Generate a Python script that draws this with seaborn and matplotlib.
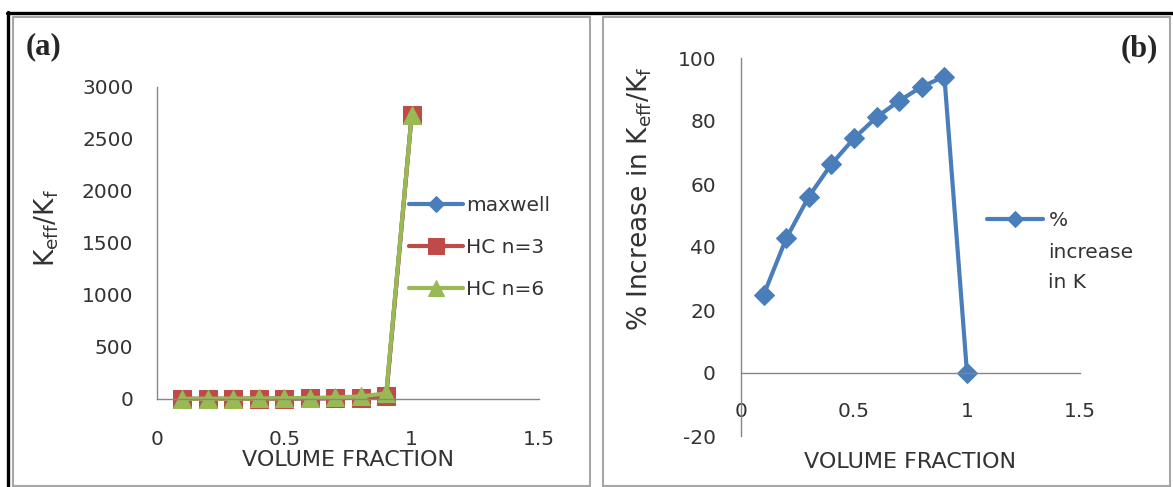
import matplotlib
matplotlib.use("Agg")
import matplotlib.pyplot as plt
import seaborn as sns
from matplotlib.lines import Line2D
from matplotlib.patches import Rectangle

# data
vol_frac = [0.1, 0.2, 0.3, 0.4, 0.5, 0.6, 0.7, 0.8, 0.9, 1.0]
maxwell = [1.33, 1.75, 2.28, 2.99, 3.99, 5.49, 7.98, 12.9, 27.7, 2730]
hc_n3 = [1.33, 1.75, 2.28, 2.99, 3.99, 5.49, 7.98, 12.9, 27.7, 2730]
hc_n6 = [1.66, 2.50, 3.56, 4.99, 6.98, 9.97, 15.0, 24.9, 53.8, 2730]
pct_increase = [24.8, 42.7, 56.0, 66.3, 74.5, 81.2, 86.4, 90.9, 94.1, 0.0]

x_ticks = [0, 0.5, 1, 1.5]
y_ticks_a = [0, 500, 1000, 1500, 2000, 2500, 3000]
y_ticks_b = [-20, 0, 20, 40, 60, 80, 100]

BLUE = "#4A7EBB"
RED = "#BE4B48"
GREEN = "#98B954"
AXIS_GREY = "#868686"
TEXT = "#333333"

sns.set_style("white")
plt.rcParams['font.family'] = ['DejaVu Sans']
plt.rcParams['mathtext.fontset'] = 'dejavusans'
plt.rcParams['axes.unicode_minus'] = False

W, H = 1173, 487
fig = plt.figure(figsize=(W / 100, H / 100), dpi=100)


def px_axes(left, top, right, bottom):
    return fig.add_axes([left / W, 1 - bottom / H, (right - left) / W, (bottom - top) / H])


def style_axis(ax):
    for s in ["top", "right"]:
        ax.spines[s].set_visible(False)
    for s in ["left", "bottom"]:
        ax.spines[s].set_color(AXIS_GREY)
        ax.spines[s].set_linewidth(1.0)
    ax.tick_params(axis="both", direction="out", length=5, width=1,
                   color=AXIS_GREY, labelsize=14.5, labelcolor=TEXT)
    ax.set_facecolor("none")


# frame around the figure
fig.add_artist(Rectangle((13 / W, 1 - 486 / H), (590 - 13) / W, (486 - 17) / H,
                         transform=fig.transFigure, fill=False, ec="#A6A6A6", lw=1.5))
fig.add_artist(Rectangle((603 / W, 1 - 486 / H), (1170 - 603) / W, (486 - 17) / H,
                         transform=fig.transFigure, fill=False, ec="#A6A6A6", lw=1.5))
fig.add_artist(Line2D([7 / W, 1], [1 - 13 / H, 1 - 13 / H], transform=fig.transFigure,
                      color="black", lw=2.4))
fig.add_artist(Line2D([8 / W, 8 / W], [0, 1 - 12 / H], transform=fig.transFigure,
                      color="black", lw=2.4))

# ---- panel (a)
ax1 = px_axes(157, 87, 539, 399)
style_axis(ax1)
series = [("maxwell", maxwell, BLUE, "D", 9),
          ("HC n=3", hc_n3, RED, "s", 13),
          ("HC n=6", hc_n6, GREEN, "^", 13)]
for name, vals, col, mk, ms in series:
    sns.lineplot(x=vol_frac, y=vals, ax=ax1, color=col, marker=mk, markersize=ms,
                 markeredgecolor=col, linewidth=3, label=name, estimator=None,
                 sort=False, clip_on=False)
ax1.set_xlim(0, 1.5)
ax1.set_ylim(0, 3000)
ax1.set_xticks(x_ticks)
ax1.set_xticklabels(["0", "0.5", "1", "1.5"])
ax1.set_yticks(y_ticks_a)
ax1.tick_params(axis="x", pad=17)
ax1.tick_params(axis="y", pad=12)
ax1.set_xlabel("VOLUME FRACTION", fontsize=16, color=TEXT, labelpad=0)
ax1.xaxis.set_label_coords(348 / W, 1 - 460 / H, transform=fig.transFigure)
ax1.xaxis.label.set_va("center")
ax1.set_ylabel(r"$\mathregular{K_{eff}/K_f}$", fontsize=19, color=TEXT)
ax1.yaxis.set_label_coords(47 / W, 1 - 228 / H, transform=fig.transFigure)
ax1.yaxis.label.set_va("center")
leg1 = ax1.legend(loc="upper left", bbox_to_anchor=(409 / W, 1 - 196 / H),
                  bbox_transform=fig.transFigure, frameon=False, borderpad=0,
                  borderaxespad=0, handlelength=2.7, handletextpad=0.15,
                  labelspacing=1.15, fontsize=14.5, labelcolor=TEXT)
for h, ms in zip(leg1.legend_handles, [8, 12, 12]):
    h.set_markersize(ms)
fig.text(26 / W, 1 - 47 / H, "(a)", family="Liberation Serif", weight="bold",
         fontsize=22, va="center", ha="left")

# ---- panel (b)
ax2 = px_axes(741, 58, 1080, 436)
style_axis(ax2)
sns.lineplot(x=vol_frac, y=pct_increase, ax=ax2, color=BLUE, marker="D",
             markersize=10, markeredgecolor=BLUE, linewidth=3,
             label="%", estimator=None, sort=False, clip_on=False)
ax2.set_xlim(0, 1.5)
ax2.set_ylim(-20, 100)
ax2.spines["bottom"].set_position(("data", 0))
ax2.set_xticks(x_ticks)
ax2.set_xticklabels(["0", "0.5", "1", "1.5"])
ax2.set_yticks(y_ticks_b)
ax2.tick_params(axis="x", pad=16)
ax2.tick_params(axis="y", pad=13)
ax2.set_xlabel("VOLUME FRACTION", fontsize=16, color=TEXT)
ax2.xaxis.set_label_coords(910 / W, 1 - 462 / H, transform=fig.transFigure)
ax2.xaxis.label.set_va("center")
ax2.set_ylabel(r"% Increase in $\mathregular{K_{eff}/K_f}$", fontsize=19, color=TEXT)
ax2.yaxis.set_label_coords(640 / W, 1 - 199 / H, transform=fig.transFigure)
ax2.yaxis.label.set_va("center")
leg2 = ax2.legend(loc="upper left", bbox_to_anchor=(987 / W, 1 - 211 / H),
                  bbox_transform=fig.transFigure, frameon=False, borderpad=0,
                  borderaxespad=0, handlelength=2.8, handletextpad=0.25,
                  fontsize=14.5, labelcolor=TEXT)
leg2.legend_handles[0].set_markersize(8)
fig.text(1048 / W, 1 - 253 / H, "increase", fontsize=14.5, color=TEXT, va="center")
fig.text(1048 / W, 1 - 283 / H, "in K", fontsize=14.5, color=TEXT, va="center")
fig.text(1158 / W, 1 - 49 / H, "(b)", family="Liberation Serif", weight="bold",
         fontsize=22, va="center", ha="right")

fig.savefig("out.png", dpi=100, facecolor="white")
